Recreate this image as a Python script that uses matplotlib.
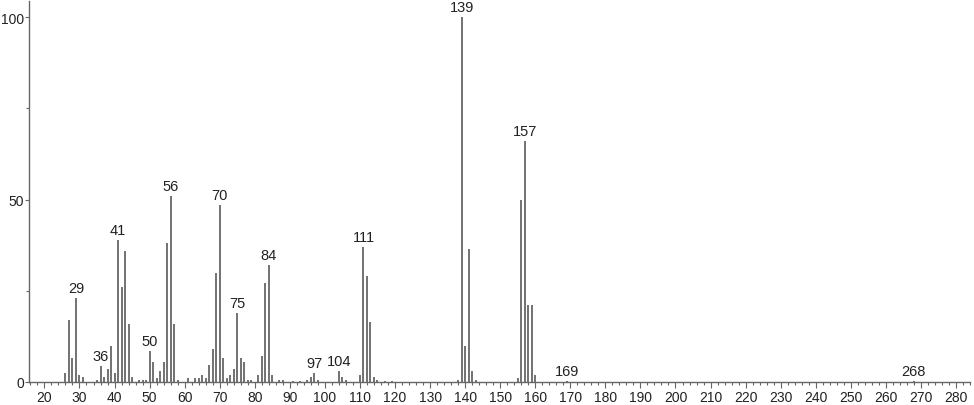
import matplotlib
matplotlib.use("Agg")
import matplotlib.pyplot as plt
from matplotlib.ticker import MultipleLocator

plt.rcParams["font.family"] = ["Liberation Sans", "DejaVu Sans"]

mz = [26, 27, 28, 29, 30, 31, 35, 36, 37, 38, 39, 40, 41, 42, 43, 44, 45, 47, 48, 49,
      50, 51, 52, 53, 54, 55, 56, 57, 58, 61, 63, 64, 65, 66, 67, 68, 69, 70, 71, 72,
      73, 74, 75, 76, 77, 78, 79, 81, 82, 83, 84, 85, 87, 88, 91, 93, 95, 96, 97, 98,
      104, 105, 106, 110, 111, 112, 113, 114, 115, 117, 119, 138, 139, 140, 141, 142, 143,
      155, 156, 157, 158, 159, 160, 169, 268]
intensity = [2.5, 17, 6.6, 23, 2, 1.5, 0.5, 4.5, 1.5, 3.5, 10, 2.5, 39, 26, 36, 16, 1.5, 0.5, 0.5, 0.5,
             8.5, 5.5, 1, 3, 5.5, 38, 51, 16, 0.5, 1, 1, 1, 1.8, 1, 4.7, 9, 30, 48.5, 6.5, 1,
             2, 3.5, 19, 6.5, 5.5, 0.5, 0.5, 2, 7, 27, 32, 2, 0.5, 0.5, 0.3, 0.3, 0.5, 1.5, 2.5, 0.5,
             3, 1.5, 0.5, 2, 37, 29, 16.5, 1.5, 0.5, 0.3, 0.3, 0.5, 100, 10, 36.5, 3, 0.5,
             1, 50, 66, 21, 21, 2, 0.3, 0.3]
labeled = [29, 36, 41, 50, 56, 70, 75, 84, 97, 104, 111, 139, 157, 169, 268]

fig = plt.figure(figsize=(9.74, 4.06), dpi=100)
ax = fig.add_axes([29/974, 23/406, 941/974, 381/406])
ax.vlines(mz, 0, intensity, colors="#5a5a5a", linewidth=1.2)

lookup = dict(zip(mz, intensity))
for m in labeled:
    ax.annotate(str(m), (m, lookup[m]), xytext=(0, 2), textcoords="offset points",
                ha="center", va="bottom", fontsize=10.5, color="#222222")

ax.set_xlim(15.6, 284)
ax.set_ylim(0, 104.4)
ax.set_xticks(range(20, 281, 10))
ax.xaxis.set_minor_locator(MultipleLocator(2))
ax.set_yticks([0, 50, 100])
ax.set_yticks([25, 75], minor=True)
for s in ["top", "right"]:
    ax.spines[s].set_visible(False)
for s in ["left", "bottom"]:
    ax.spines[s].set_color("#666666")
    ax.spines[s].set_linewidth(1.0)
ax.tick_params(axis="x", which="major", length=4, width=0.8, color="#666666",
               labelsize=10, labelcolor="#222222", pad=2)
ax.tick_params(axis="y", which="major", length=3, width=0.8, color="#666666",
               labelsize=10, labelcolor="#222222", pad=0.5)
ax.tick_params(axis="both", which="minor", length=2.5, width=0.8, color="#666666")

fig.savefig("out.png", dpi=100)
